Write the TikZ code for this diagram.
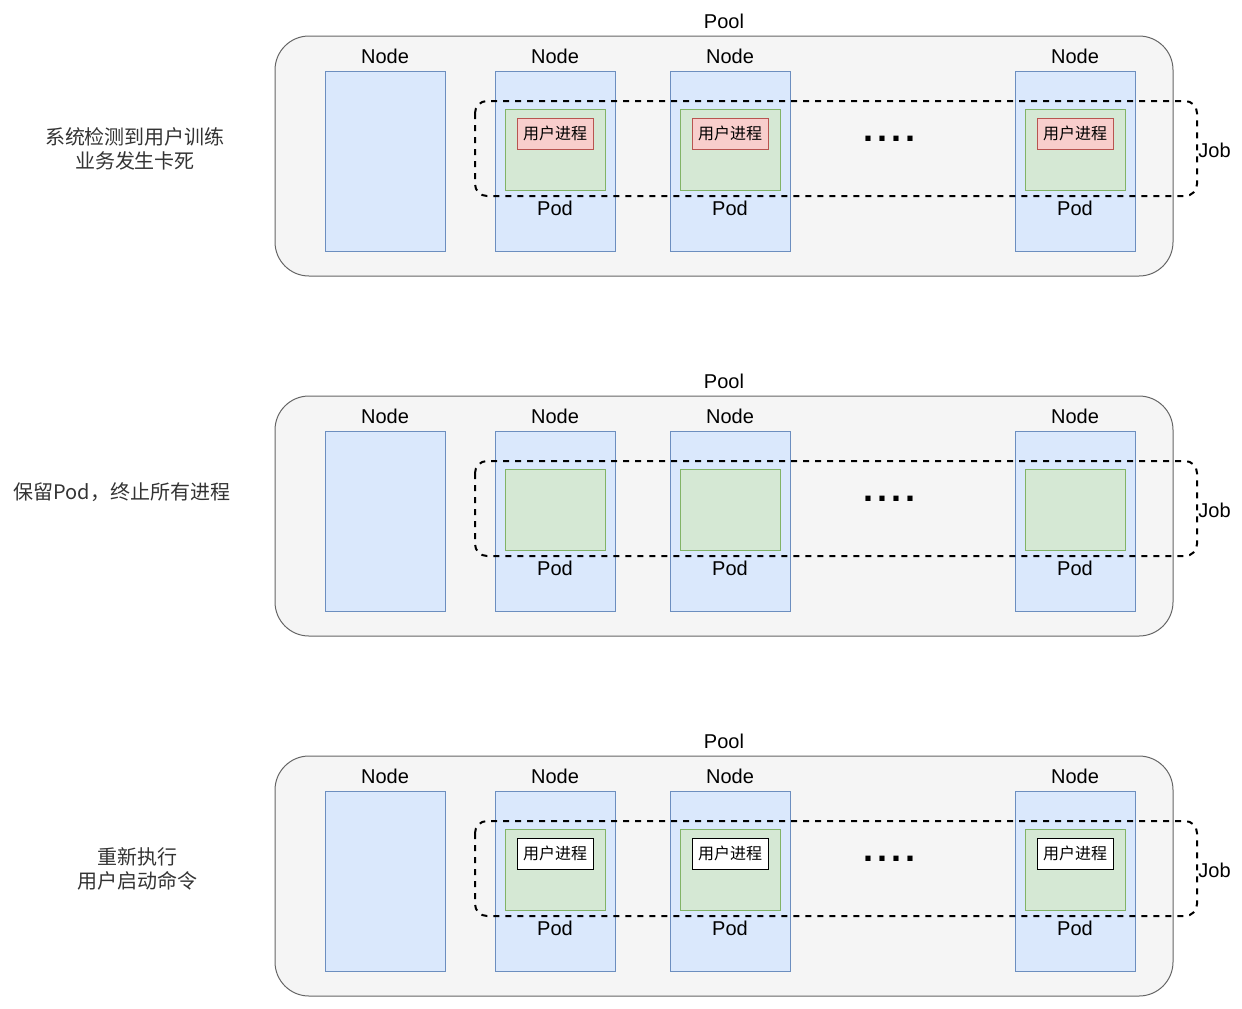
\documentclass[tikz,border=0pt]{standalone}
\usepackage{fontspec}
\setmainfont{Liberation Sans}
\newfontfamily\cjk{Noto Sans CJK SC}
\definecolor{poolfill}{HTML}{F5F5F5}
\definecolor{pooldraw}{HTML}{666666}
\definecolor{nodefill}{HTML}{DAE8FC}
\definecolor{nodedraw}{HTML}{6C8EBF}
\definecolor{podfill}{HTML}{D5E8D4}
\definecolor{poddraw}{HTML}{82B366}
\definecolor{procfill}{HTML}{F8CECC}
\definecolor{procdraw}{HTML}{B85450}
\definecolor{notetext}{HTML}{333333}

\begin{document}
\begin{tikzpicture}[x=0.5pt,y=-0.5pt,
    every node/.style={inner sep=0pt,font=\fontsize{10}{12}\selectfont},
    poolbox/.style={draw=pooldraw,fill=poolfill,line width=0.5pt,rounded corners=17pt},
    nodebox/.style={draw=nodedraw,fill=nodefill,line width=0.5pt},
    podbox/.style={draw=poddraw,fill=podfill,line width=0.5pt},
    procbox/.style={draw=procdraw,fill=procfill,line width=0.5pt},
    procbox2/.style={draw=black,fill=white,line width=0.5pt},
    jobbox/.style={draw=black,line width=1pt,dash pattern=on 3pt off 3pt,rounded corners=6pt},
    proctext/.style={font=\cjk\fontsize{8}{10}\selectfont},
    note/.style={align=center,text=notetext,font=\cjk\fontsize{10}{12}\selectfont},
    dots/.style={anchor=base,font=\fontsize{18}{18}\selectfont\bfseries}]
  \useasboundingbox (0,0) rectangle (1242,1008);

  % stage 1: hang detected
  \node [note] (note1) at (135,149) {系统检测到用户训练\\业务发生卡死};

  \draw [poolbox] (275,36) rectangle (1173,276);
  \node (pool1) at (724,21) {Pool};

  \draw [nodebox] (325,71) rectangle (445,251);
  \node (node1a) at (385,56) {Node};

  \draw [nodebox] (495,71) rectangle (615,251);
  \node (node1b) at (555,56) {Node};
  \draw [podbox] (505,109) rectangle (605,190);
  \draw [procbox] (517,118) rectangle (593,149);
  \node [proctext] (proc1b) at (555,133.5) {用户进程};
  \node (pod1b) at (555,208) {Pod};

  \draw [nodebox] (670,71) rectangle (790,251);
  \node (node1c) at (730,56) {Node};
  \draw [podbox] (680,109) rectangle (780,190);
  \draw [procbox] (692,118) rectangle (768,149);
  \node [proctext] (proc1c) at (730,133.5) {用户进程};
  \node (pod1c) at (730,208) {Pod};

  \node [dots] (dots1) at (889.5,141.7) {.\kern2pt.\kern2pt.\kern2pt.};

  \draw [nodebox] (1015,71) rectangle (1135,251);
  \node (node1d) at (1075,56) {Node};
  \draw [podbox] (1025,109) rectangle (1125,190);
  \draw [procbox] (1037,118) rectangle (1113,149);
  \node [proctext] (proc1d) at (1075,133.5) {用户进程};
  \node (pod1d) at (1075,208) {Pod};

  \draw [jobbox] (475,101) rectangle (1197,196);
  \node [anchor=west] (job1) at (1198,150) {Job};

  % stage 2: keep pods, kill processes
  \node [note] (note2) at (122,492) {保留Pod，终止所有进程};

  \draw [poolbox] (275,396) rectangle (1173,636);
  \node (pool2) at (724,381) {Pool};

  \draw [nodebox] (325,431) rectangle (445,611);
  \node (node2a) at (385,416) {Node};

  \draw [nodebox] (495,431) rectangle (615,611);
  \node (node2b) at (555,416) {Node};
  \draw [podbox] (505,469) rectangle (605,550);
  \node (pod2b) at (555,568) {Pod};

  \draw [nodebox] (670,431) rectangle (790,611);
  \node (node2c) at (730,416) {Node};
  \draw [podbox] (680,469) rectangle (780,550);
  \node (pod2c) at (730,568) {Pod};

  \node [dots] (dots2) at (889.5,501.7) {.\kern2pt.\kern2pt.\kern2pt.};

  \draw [nodebox] (1015,431) rectangle (1135,611);
  \node (node2d) at (1075,416) {Node};
  \draw [podbox] (1025,469) rectangle (1125,550);
  \node (pod2d) at (1075,568) {Pod};

  \draw [jobbox] (475,461) rectangle (1197,556);
  \node [anchor=west] (job2) at (1198,510) {Job};

  % stage 3: rerun start command
  \node [note] (note3) at (137,869) {重新执行\\用户启动命令};

  \draw [poolbox] (275,756) rectangle (1173,996);
  \node (pool3) at (724,741) {Pool};

  \draw [nodebox] (325,791) rectangle (445,971);
  \node (node3a) at (385,776) {Node};

  \draw [nodebox] (495,791) rectangle (615,971);
  \node (node3b) at (555,776) {Node};
  \draw [podbox] (505,829) rectangle (605,910);
  \draw [procbox2] (517,838) rectangle (593,869);
  \node [proctext] (proc3b) at (555,853.5) {用户进程};
  \node (pod3b) at (555,928) {Pod};

  \draw [nodebox] (670,791) rectangle (790,971);
  \node (node3c) at (730,776) {Node};
  \draw [podbox] (680,829) rectangle (780,910);
  \draw [procbox2] (692,838) rectangle (768,869);
  \node [proctext] (proc3c) at (730,853.5) {用户进程};
  \node (pod3c) at (730,928) {Pod};

  \node [dots] (dots3) at (889.5,861.7) {.\kern2pt.\kern2pt.\kern2pt.};

  \draw [nodebox] (1015,791) rectangle (1135,971);
  \node (node3d) at (1075,776) {Node};
  \draw [podbox] (1025,829) rectangle (1125,910);
  \draw [procbox2] (1037,838) rectangle (1113,869);
  \node [proctext] (proc3d) at (1075,853.5) {用户进程};
  \node (pod3d) at (1075,928) {Pod};

  \draw [jobbox] (475,821) rectangle (1197,916);
  \node [anchor=west] (job3) at (1198,870) {Job};
\end{tikzpicture}
\end{document}
